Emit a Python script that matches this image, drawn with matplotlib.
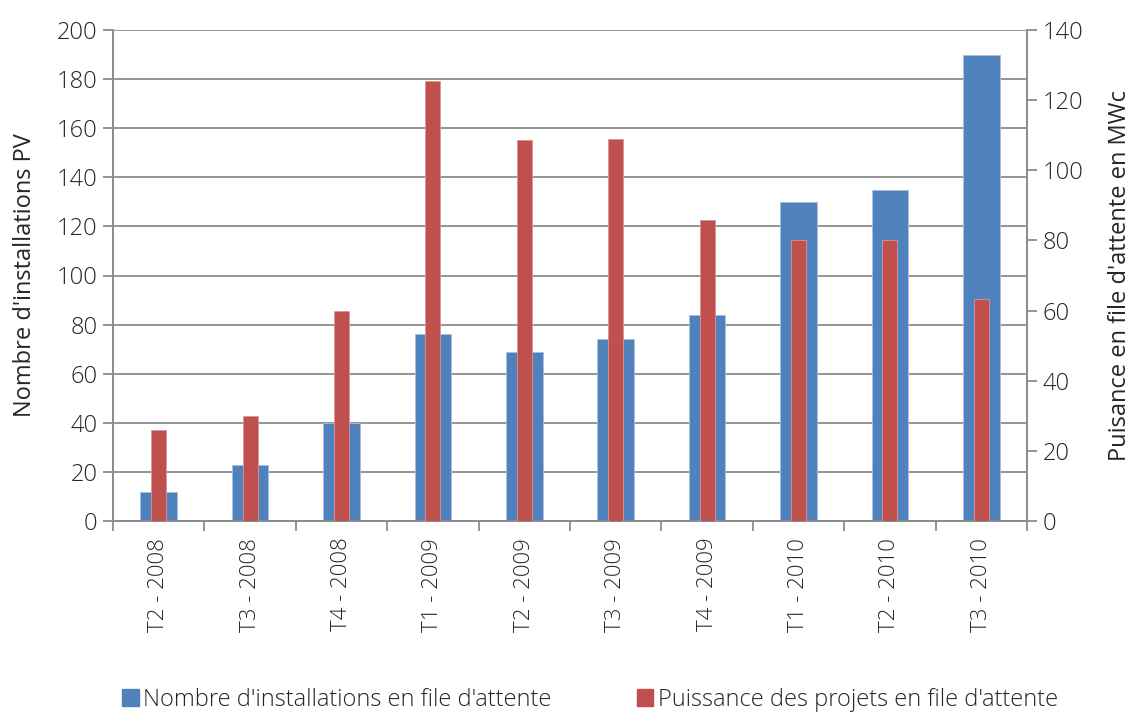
import matplotlib
matplotlib.use("Agg")
import matplotlib.pyplot as plt
import numpy as np
from matplotlib.patches import Patch

categories = ["T2 - 2008", "T3 - 2008", "T4 - 2008", "T1 - 2009", "T2 - 2009",
              "T3 - 2009", "T4 - 2009", "T1 - 2010", "T2 - 2010", "T3 - 2010"]
nb_installations = [12, 23, 40, 76, 69, 74, 84, 130, 135, 190]
puissance_mwc = [26, 30, 60, 125.5, 108.7, 109, 85.8, 80, 80, 63.2]
left_ticks = [0, 20, 40, 60, 80, 100, 120, 140, 160, 180, 200]
right_ticks = [0, 20, 40, 60, 80, 100, 120, 140]

blue = "#4F81BD"
red = "#C0504D"
grid_c = "#8C8C8C"
txt_c = "#262626"

plt.rcParams['font.family'] = ['Open Sans', 'DejaVu Sans']
plt.rcParams['font.weight'] = 'light'

fig = plt.figure(figsize=(11.33, 7.16), dpi=100)
ax = fig.add_axes([113/1133, 1 - 521/716, (1027-113)/1133, (521-30)/716])
ax2 = ax.twinx()

x = np.arange(len(categories))
ax.bar(x, nb_installations, width=0.4, color=blue, edgecolor="#A7C0DE", linewidth=0.6, zorder=2)
ax2.bar(x, puissance_mwc, width=0.165, color=red, edgecolor="#D99694", linewidth=0.6, zorder=3)

ax.set_xlim(-0.5, len(categories) - 0.5)
ax.set_ylim(0, 200)
ax2.set_ylim(0, 140)
ax.set_yticks(left_ticks)
ax2.set_yticks(right_ticks)

ax.yaxis.grid(True, color=grid_c, linewidth=1.3, zorder=0)
ax.set_axisbelow(True)

ax.set_xticks(x)
ax.set_xticklabels(categories, rotation=90, fontsize=16, color=txt_c)
ax.tick_params(axis='x', length=0, pad=12)
ax.set_xticks(np.arange(-0.5, len(categories)), minor=True)
ax.tick_params(axis='x', which='minor', length=7, width=1.3, color=grid_c)

ax.tick_params(axis='y', labelsize=17, length=7, width=1.3, color=grid_c, labelcolor=txt_c, pad=4)
ax2.tick_params(axis='y', labelsize=17, length=7, width=1.3, color=grid_c, labelcolor=txt_c, pad=4)

for a in (ax, ax2):
    a.spines["top"].set_visible(False)
    for s in ("left", "right", "bottom"):
        a.spines[s].set_color(grid_c)
        a.spines[s].set_linewidth(1.3)

ax.set_ylabel("Nombre d'installations PV", fontsize=17, color=txt_c, labelpad=14)
ax2.set_ylabel("Puisance en file d'attente en MWc", fontsize=17, color=txt_c, labelpad=18)

handles = [Patch(color=blue, label="Nombre d'installations en file d'attente"),
           Patch(color=red, label="Puissance des projets en file d'attente")]
fig.legend(handles=handles, loc="center", bbox_to_anchor=(590/1133, 1 - 700/716), ncol=2,
           frameon=False, fontsize=17, handlelength=0.7, handleheight=0.7,
           handletextpad=0.2, columnspacing=3.6, labelcolor=txt_c)

fig.savefig("out.png", dpi=100)
